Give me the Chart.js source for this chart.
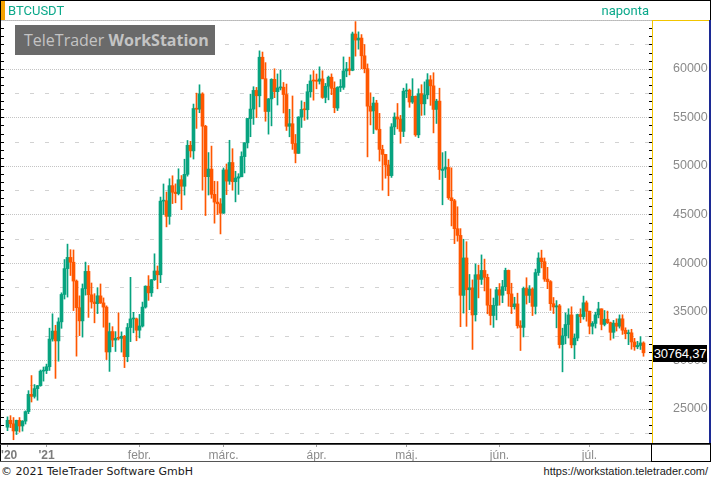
<!DOCTYPE html>
<html>
<head>
<meta charset="utf-8">
<script src="https://cdn.jsdelivr.net/npm/chart.js@4"></script>
<style>
  body { margin: 0; background: #fff; }
  #wrap { position: relative; width: 711px; height: 481px; overflow: hidden; background: #fff; }
  #chart { position: absolute; left: 0; top: 0; }
  .txt { position: absolute; white-space: nowrap; }
  #sym { left: 8px; top: 3px; font: 13px Roboto, sans-serif; color: #0aa88a; }
  #period { right: 62px; top: 3px; font: 13px Roboto, sans-serif; color: #0aa88a; }
  #logo { left: 15px; top: 25px; width: 200px; height: 30px; background: #6a6a6a; color: #c4c4c4;
          font: 16px "Open Sans", sans-serif; line-height: 30px; padding-left: 9px; box-sizing: border-box; }
  #logo b { font-weight: 700; }
  #last { left: 653px; width: 54px; height: 17px; background: #000; color: #fff; text-align: center;
          font: 13px "Liberation Sans", Arial, sans-serif; line-height: 17px; letter-spacing: -0.2px; }
  #copy { left: 1px; top: 465px; font: 11px "DejaVu Sans", sans-serif; color: #1a1a1a; }
  #url { right: 3px; top: 465px; font: 11px "Liberation Sans", Arial, sans-serif; color: #1a1a1a; }
</style>
</head>
<body>
<div id="wrap">
  <canvas id="chart" width="711" height="463"></canvas>
  <div class="txt" id="sym">BTCUSDT</div>
  <div class="txt" id="period">naponta</div>
  <div class="txt" id="logo">TeleTrader <b>WorkStation</b></div>
  <div class="txt" id="last">30764,37</div>
  <div class="txt" id="copy">© 2021 TeleTrader Software GmbH</div>
  <div class="txt" id="url">https://workstation.teletrader.com/</div>
</div>
<script>
// daily candles from the first date on
const startDate = '2020-12-19';

const opens = [
  23107,23821,23455,22719,23810,23232,23729,24712,26493,26281,27079,27385,28875,
  28923,29331,32176,33000,31989,33950,36769,39432,40586,40088,38150,35410,34049,37371,39145,36737,35994,35825,36622,35901,35468,30851,32950,32078,32259,32251,32465,30362,33368,34246,34262,
  33092,33517,35472,37620,36936,38289,39181,38795,46374,46420,44807,47968,47298,47156,48580,47911,49133,52118,51550,55906,55841,57412,54087,48891,49676,47074,46277,46104,
  45134,49595,48437,50349,48374,48747,48882,50959,52376,54874,55851,57773,57221,61188,58976,55605,56900,58912,57641,58030,58100,57351,54083,54342,52303,51293,55025,55817,55781,57635,58746,
  58740,58720,58950,57051,58202,59129,57991,55954,58081,58092,59778,59985,59839,63575,62959,63159,61334,60006,56150,55663,56471,53775,51701,51188,50101,49005,54022,55034,54825,53555,
  57697,57797,56578,57169,53199,57436,56393,57315,58866,58240,55816,56670,49538,49671,49844,46716,46416,43538,42849,36672,40526,37253,37449,34681,38810,38324,39241,38529,35661,34606,35641,
  37253,36694,37568,39246,36829,35517,35796,33556,33380,37389,36677,37331,35546,39020,40516,40143,38349,38092,35820,35483,35600,31614,32510,33676,34663,31577,32283,34702,34494,35911,
  35045,33502,33786,34669,35288,33690,34220,33863,32875,33815,33502,34259,33086,32729,32820,31874,31383,31521,31778
];
const highs = [
  24171,24295,24102,23837,24100,23789,24789,26867,28422,27500,27410,28996,29300,
  29600,33300,34778,33600,34360,36939,40365,41950,41380,41350,38264,36628,37850,40100,39747,37950,36852,37469,37850,36415,35600,33826,33456,32944,34875,32921,32557,33783,38531,34933,34342,
  34717,35984,37662,38708,38310,40955,39700,46794,48142,47310,48678,48985,48150,49707,49010,50689,52618,52530,56368,57493,58352,57534,54183,51374,52041,48424,48394,46638,
  49790,50200,52640,51773,49448,49200,51450,52402,54900,57387,58150,58081,61844,61724,60633,56938,58974,60000,59468,59880,58589,58430,55830,57200,53238,55073,56700,56559,58405,59368,59800,
  59461,60200,59791,58492,59251,59474,58655,58153,58894,61218,60658,61199,63777,64854,63800,63520,62500,60499,57526,57076,56757,55410,52131,51200,50591,54356,55460,56428,55200,58000,
  58458,57911,58981,57200,57938,58360,58650,59500,59300,59592,56862,58000,51367,51483,50700,49800,46561,45799,43546,42451,42200,38829,38270,39920,39791,40841,40411,38856,37338,36400,37499,
  37894,38225,39476,39289,37925,36480,36900,34069,37534,38491,37680,37463,39380,41064,41330,40527,39560,38200,36457,36137,35750,33298,34881,35298,35500,32707,34749,35297,36600,36100,
  35057,33977,34945,35967,35293,35118,35059,33929,34100,34262,34666,34679,33340,33114,33185,32249,31949,32435,31899
];
const lows = [
  22750,23060,21815,22353,22600,22703,23433,24500,25700,26101,25880,27320,27850,
  28624,28946,31962,28130,29900,33288,36300,36500,38720,35111,30420,32531,32380,36701,34408,35357,33850,34800,35844,33400,30071,28850,31390,30900,32083,30837,29241,29842,31915,32825,32002,
  32296,33418,35362,36161,36570,38215,37351,37988,45000,43727,43994,46125,46202,47014,45500,47003,48947,50901,50710,53863,55477,47500,44892,47004,46674,44106,45000,43000,
  45115,47047,48100,47500,46300,47070,48882,49274,51846,53005,54272,54962,56078,58966,54600,53271,54123,57023,56270,57820,55450,53650,53000,51700,50313,51283,53961,54691,54800,57071,56769,
  57935,58428,56955,56500,56800,57333,55473,55700,57654,57875,59177,59369,59792,61301,62020,60000,59580,50931,54221,53329,53695,50500,47500,48733,46930,48817,53222,53813,52330,53013,
  57029,56035,56435,53046,52900,55200,55241,56900,56235,53400,54370,48600,46000,48799,46555,43825,42001,42250,33450,34850,33488,35200,31111,34031,36419,37800,37134,34779,33632,33379,34153,
  35666,35920,37170,35555,34800,35258,33300,31000,32396,35782,35936,34600,34757,38730,39506,38116,37365,35129,34803,33336,31251,28805,31684,32286,31275,30151,32000,33862,34225,34017,
  32711,32699,33316,34357,33125,33532,33777,32077,32261,33004,33306,32658,32202,31600,31133,31020,31179,31108,30407
];
const closes = [
  23821,23455,22719,23810,23232,23729,24712,26493,26281,27079,27385,28875,28923,
  29331,32178,33000,31988,33949,36769,39432,40582,40088,38150,35404,34051,37371,39144,36742,35994,35828,36631,35891,35468,30850,32945,32078,32259,32254,32467,30366,33364,34252,34262,33092,
  33526,35466,37618,36936,38290,39186,38795,46374,46420,44807,47969,47287,47153,48577,47911,49133,52119,51552,55906,55841,57408,54087,48891,49676,47073,46276,46106,45135,
  49587,48440,50349,48374,48751,48882,50971,52375,54884,55851,57773,57221,61188,58968,55605,56900,58912,57648,58030,58102,57351,54083,54340,52303,51293,55025,55817,55777,57635,58746,58740,
  58720,58950,57051,58202,59129,57991,56000,58080,58092,59778,59985,59839,63588,62959,63159,61334,60006,56150,55633,56473,53774,51701,51187,50097,49004,54021,55034,54825,53555,57694,
  57800,56578,57170,53200,57436,56393,57314,58862,58240,55816,56670,49631,49670,49841,46723,46426,43538,42849,36690,40526,37252,37449,34655,38796,38324,39241,38529,35663,34605,35641,37253,
  36693,37568,39246,36829,35513,35796,33552,33380,37388,36675,37331,35546,39020,40516,40144,38349,38092,35819,35483,35600,31608,32509,33678,34663,31584,32283,34700,34494,35911,35045,
  33504,33787,34669,35286,33690,34220,33862,32875,33815,33502,34259,33087,32729,32820,31880,31383,31520,31778,30764.37
];

const monthTickDates = ['2020-12-19','2021-01-01','2021-02-01','2021-03-01','2021-04-01','2021-05-01','2021-06-01','2021-07-01'];
const monthTickLabels = [" '20", "'21", 'febr.', 'márc.', 'ápr.', 'máj.', 'jún.', 'júl.'];
const yTickValues = [25000, 30000, 35000, 40000, 45000, 50000, 55000, 60000];

const upColor = '#07a37f';
const downColor = '#ff5700';

const t0 = Date.parse(startDate);
const dayIndex = s => Math.round((Date.parse(s) - t0) / 86400000);

const colors = closes.map((c, i) => c >= opens[i] ? upColor : downColor);
const wicks = lows.map((l, i) => ({ x: i, y: [l, highs[i]] }));
const bodies = opens.map((o, i) => ({ x: i, y: [o, closes[i]] }));

// 3px per day, 1 Jan sits at x=46.5
const xMin = dayIndex('2021-01-01') - 45.5 / 3;
const xMax = xMin + 651 / 3;

const frame = {
  id: 'frame',
  beforeDatasetsDraw(chart) {
    const { ctx, chartArea: a, scales: { y } } = chart;
    ctx.save();
    ctx.beginPath();
    ctx.rect(a.left, a.top, a.right - a.left, a.bottom - a.top);
    ctx.clip();
    for (let v = 22500; v <= 65000; v += 2500) {
      const py = Math.round(y.getPixelForValue(v)) + 0.5;
      ctx.beginPath();
      if (v % 5000 === 0) {
        ctx.setLineDash([1, 1]);
        ctx.strokeStyle = '#c4c4c4';
      } else {
        ctx.setLineDash([4, 11]);
        ctx.strokeStyle = '#d2d2d2';
      }
      ctx.moveTo(0, py);
      ctx.lineTo(a.right, py);
      ctx.stroke();
    }
    ctx.restore();
  },
  afterDraw(chart) {
    const { ctx, chartArea: a, scales: { y } } = chart;
    ctx.save();
    // top dotted line
    ctx.setLineDash([1, 1]);
    ctx.strokeStyle = '#b8b8b8';
    ctx.beginPath();
    ctx.moveTo(1, 20.5);
    ctx.lineTo(652, 20.5);
    ctx.stroke();
    ctx.setLineDash([]);
    // small ticks on both edges
    ctx.fillStyle = '#000';
    for (let v = 22500; v < 65000; v += 2500 / 3) {
      const py = Math.round(y.getPixelForValue(v));
      if (py < a.top || py > a.bottom) continue;
      ctx.fillRect(1, py, 3, 1);
      ctx.fillRect(649, py, 3, 1);
    }
    // outer frame
    ctx.fillStyle = '#000';
    ctx.fillRect(0, 0, 711, 1);
    ctx.fillRect(0, 0, 1, 462);
    ctx.fillRect(710, 0, 1, 20);
    ctx.fillStyle = '#f5a300';
    ctx.fillRect(1, 1, 4, 19);
    // price axis box
    ctx.fillStyle = '#f2c500';
    ctx.fillRect(652, 20, 58, 1);
    ctx.fillRect(652, 20, 1, 423);
    ctx.fillStyle = '#1c2a94';
    ctx.fillRect(709, 20, 2, 424);
    // bottom axis lines
    ctx.fillStyle = '#000';
    ctx.fillRect(0, 443, 711, 1);
    ctx.fillStyle = '#444';
    ctx.fillRect(0, 444, 711, 1);
    ctx.fillStyle = '#555';
    ctx.fillRect(0, 461, 651, 1);
    ctx.fillStyle = '#000';
    ctx.fillRect(651, 443, 1, 19);
    ctx.fillRect(651, 461, 60, 1);
    ctx.fillRect(710, 443, 1, 19);
    ctx.restore();
  },
  afterRender(chart) {
    const py = chart.scales.y.getPixelForValue(closes[closes.length - 1]);
    document.getElementById('last').style.top = (Math.round(py) - 8) + 'px';
  }
};

Chart.defaults.font.family = '"Liberation Sans", Arial, sans-serif';

new Chart(document.getElementById('chart'), {
  type: 'bar',
  data: {
    datasets: [
      { data: bodies, backgroundColor: colors, barThickness: 3, grouped: false, borderWidth: 0, minBarLength: 1 },
      { data: wicks, backgroundColor: colors, barThickness: 1, grouped: false, borderWidth: 0 }
    ]
  },
  options: {
    responsive: false,
    animation: false,
    events: [],
    layout: { autoPadding: false, padding: { left: 1, right: 2, top: 20, bottom: 0 } },
    plugins: { legend: { display: false }, tooltip: { enabled: false } },
    scales: {
      x: {
        type: 'linear',
        offset: false,
        min: xMin,
        max: xMax,
        bounds: 'data',
        afterBuildTicks: s => { s.ticks = monthTickDates.map(d => ({ value: dayIndex(d) })); },
        afterFit: s => { s.height = 20; s.paddingLeft = 0; s.paddingRight = 0; },
        grid: { display: true, offset: false, drawOnChartArea: false, drawTicks: true, tickLength: 4, color: '#a0a0a0' },
        border: { display: false },
        ticks: {
          autoSkip: false,
          maxRotation: 0,
          padding: 1,
          color: c => c.index < 2 ? '#7c7c7c' : '#8c8c8c',
          font: c => ({ size: 12, weight: c.index < 2 ? 'bold' : 'normal' }),
          callback: (v, i) => monthTickLabels[i]
        }
      },
      y: {
        position: 'right',
        min: 21480,
        max: 65020,
        afterBuildTicks: s => { s.ticks = yTickValues.map(v => ({ value: v })); },
        afterFit: s => { s.width = 57; s.paddingTop = 0; s.paddingBottom = 0; },
        grid: { display: false, drawTicks: false },
        border: { display: false },
        ticks: {
          padding: 21,
          color: '#8a8a8a',
          font: { size: 12.5 },
          callback: v => String(v)
        }
      }
    }
  },
  plugins: [frame]
});
</script>
</body>
</html>
